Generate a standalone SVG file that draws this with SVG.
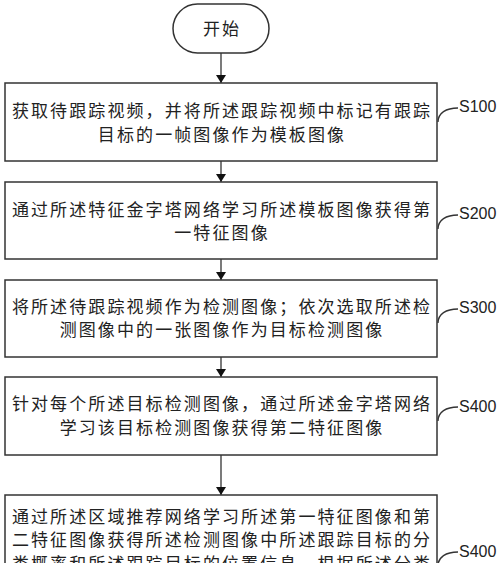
<svg xmlns="http://www.w3.org/2000/svg" width="500" height="563" viewBox="0 0 500 563">
<style>
.box{fill:#fff;stroke:#333;stroke-width:1.5}
.t{font-family:"Noto Sans CJK SC","Noto Sans CJK JP",sans-serif;font-size:17px;letter-spacing:2.1px;fill:#222;text-anchor:middle}
.lbl{font-family:"Liberation Sans",Arial,sans-serif;font-size:16px;fill:#222}
.ln{fill:none;stroke:#333;stroke-width:1.3}
.lead{fill:none;stroke:#333;stroke-width:1.3}
</style>
<defs>
<marker id="ah" markerWidth="8" markerHeight="10" refX="8" refY="5" orient="auto" markerUnits="userSpaceOnUse">
<path d="M0,0 L8,5 L0,10 Z" fill="#111"/>
</marker>
</defs>
<rect width="500" height="563" fill="#fff"/>
<g id="connectors">
<line class="ln" x1="221" y1="53" x2="221" y2="83" marker-end="url(#ah)"/>
<line class="ln" x1="221" y1="161" x2="221" y2="182" marker-end="url(#ah)"/>
<line class="ln" x1="221" y1="259" x2="221" y2="280" marker-end="url(#ah)"/>
<line class="ln" x1="221" y1="357" x2="221" y2="377" marker-end="url(#ah)"/>
<line class="ln" x1="221" y1="455" x2="221" y2="495" marker-end="url(#ah)"/>
</g>
<g id="start">
<rect class="box" x="173" y="4" width="96" height="49" rx="24.5"/>
<text class="t" x="222" y="35">开始</text>
</g>
<g id="s100">
<rect class="box" x="5" y="83" width="432" height="78"/>
<text class="t" x="222" y="116.5">获取待跟踪视频，并将所述跟踪视频中标记有跟踪</text>
<text class="t" x="222" y="141">目标的一帧图像作为模板图像</text>
<path class="lead" d="M438,122 C438,113 446,108 458,108"/>
<text class="lbl" x="459" y="112">S100</text>
</g>
<g id="s200">
<rect class="box" x="5" y="182" width="432" height="77"/>
<text class="t" x="222" y="216">通过所述特征金字塔网络学习所述模板图像获得第</text>
<text class="t" x="222" y="239">一特征图像</text>
<path class="lead" d="M438,229 C438,220 446,215 458,215"/>
<text class="lbl" x="459" y="219">S200</text>
</g>
<g id="s300">
<rect class="box" x="5" y="280" width="432" height="77"/>
<text class="t" x="222" y="312.5">将所述待跟踪视频作为检测图像；依次选取所述检</text>
<text class="t" x="222" y="335.5">测图像中的一张图像作为目标检测图像</text>
<path class="lead" d="M438,323 C438,314 446,309 458,309"/>
<text class="lbl" x="459" y="313">S300</text>
</g>
<g id="s400">
<rect class="box" x="5" y="377" width="432" height="78"/>
<text class="t" x="222" y="410">针对每个所述目标检测图像，通过所述金字塔网络</text>
<text class="t" x="222" y="434">学习该目标检测图像获得第二特征图像</text>
<path class="lead" d="M438,421 C438,412 446,407 458,407"/>
<text class="lbl" x="459" y="411.5">S400</text>
</g>
<g id="s400b">
<rect class="box" x="5" y="495" width="432" height="100"/>
<text class="t" x="222" y="522.5">通过所述区域推荐网络学习所述第一特征图像和第</text>
<text class="t" x="222" y="546">二特征图像获得所述检测图像中所述跟踪目标的分</text>
<text class="t" x="222" y="569.5">类概率和所述跟踪目标的位置信息，根据所述分类</text>
<path class="lead" d="M438,566 C438,557 446,552 458,552"/>
<text class="lbl" x="459" y="556.5">S400</text>
</g>
</svg>
